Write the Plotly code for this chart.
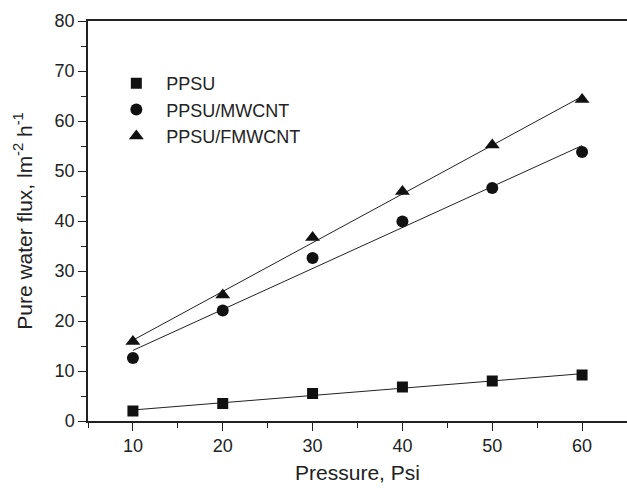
import numpy as np
import plotly.graph_objects as go

pressure = [10, 20, 30, 40, 50, 60]
ppsu = [2.0, 3.5, 5.5, 6.8, 8.0, 9.2]
ppsu_mwcnt = [12.6, 22.1, 32.6, 39.9, 46.6, 53.8]
ppsu_fmwcnt = [15.9, 25.2, 36.7, 45.9, 55.2, 64.3]

series = [
    ("PPSU", ppsu, "square", 11),
    ("PPSU/MWCNT", ppsu_mwcnt, "circle", 12),
    ("PPSU/FMWCNT", ppsu_fmwcnt, "triangle-up", 13),
]

FONT = "Liberation Sans, Arial, Helvetica, sans-serif"
fig = go.Figure()

x = np.array(pressure, dtype=float)
for name, ys, sym, sz in series:
    k, b = np.polyfit(x, np.array(ys), 1)
    xs = [x.min(), x.max()]
    fig.add_trace(go.Scatter(x=xs, y=[k * v + b for v in xs], mode="lines",
                             line=dict(color="#222", width=1), showlegend=False,
                             hoverinfo="skip"))

for name, ys, sym, sz in series:
    fig.add_trace(go.Scatter(x=pressure, y=ys, mode="markers", name=name,
                             marker=dict(symbol=sym, size=sz, color="#111")))

axis_common = dict(
    showgrid=False, zeroline=False, showline=True, linecolor="#222", linewidth=1.5,
    ticks="outside", ticklen=8, tickwidth=1.2, tickcolor="#222",
    tickfont=dict(size=18, family=FONT, color="#222"),
)

fig.update_xaxes(**axis_common, range=[5, 65], tick0=10, dtick=10, mirror=True,
                 minor=dict(ticks="outside", ticklen=5, dtick=5, tick0=5, tickcolor="#222"),
                 title=dict(text="Pressure, Psi", font=dict(size=21, family=FONT, color="#222"), standoff=10))
fig.update_yaxes(**axis_common, range=[0, 80], tick0=0, dtick=10,
                 minor=dict(ticks="outside", ticklen=5, dtick=5, tick0=0, tickcolor="#222"),
                 title=dict(text="Pure water flux, lm<sup>-2</sup> h<sup>-1</sup>",
                            font=dict(size=21, family=FONT, color="#222"), standoff=16))

fig.update_layout(
    width=627, height=488,
    margin=dict(l=88, r=0, t=21, b=67),
    plot_bgcolor="white", paper_bgcolor="white",
    legend=dict(x=0.034, y=0.89, xanchor="left", yanchor="top", itemwidth=50,
                font=dict(size=18, family=FONT, color="#222"),
                bgcolor="rgba(0,0,0,0)", tracegroupgap=0),
)

fig.write_html("out.html")
